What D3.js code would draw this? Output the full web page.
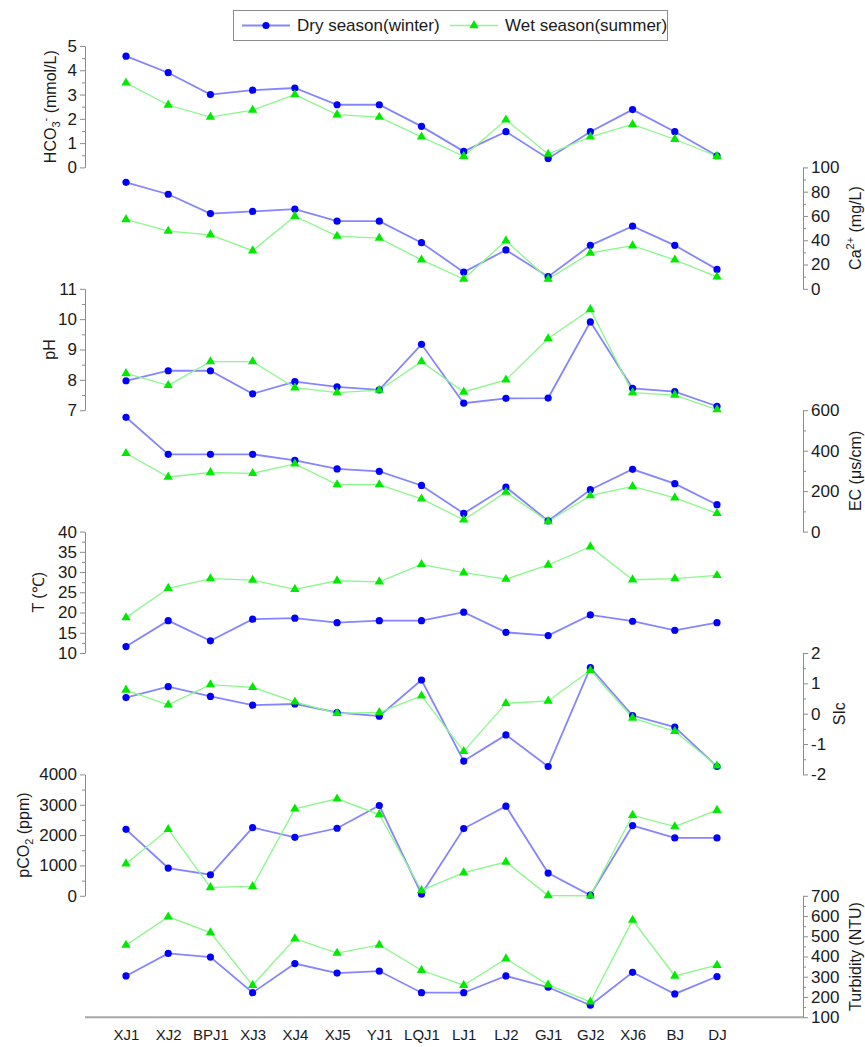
<!DOCTYPE html>
<html>
<head>
<meta charset="utf-8">
<script src="https://cdn.jsdelivr.net/npm/d3@7"></script>
<style>
  html, body { margin: 0; padding: 0; background: #fff; }
  svg { display: block; font-family: "Liberation Sans", Arial, sans-serif; }
</style>
</head>
<body>
<svg id="chart" width="865" height="1047"></svg>
<script>
// Sampling sites along the x axis
const sites = ["XJ1", "XJ2", "BPJ1", "XJ3", "XJ4", "XJ5", "YJ1", "LQJ1", "LJ1", "LJ2", "GJ1", "GJ2", "XJ6", "BJ", "DJ"];

// Series values per parameter: dry season (winter) and wet season (summer)
const hco3Dry = [4.58, 3.9, 3.0, 3.18, 3.27, 2.58, 2.58, 1.69, 0.66, 1.47, 0.37, 1.47, 2.38, 1.47, 0.48];
const hco3Wet = [3.48, 2.57, 2.07, 2.36, 3.0, 2.17, 2.07, 1.26, 0.46, 1.96, 0.55, 1.26, 1.77, 1.16, 0.46];
const caDry = [87.7, 77.9, 62, 63.7, 65.6, 55.7, 55.7, 38, 13.7, 32, 10, 35.8, 51.6, 35.8, 16];
const caWet = [57.1, 47.5, 44.5, 31.4, 59.8, 43.4, 41.8, 23.8, 8, 39.6, 8, 29.5, 35.5, 23.8, 9.8];
const phDry = [7.97, 8.3, 8.3, 7.54, 7.94, 7.77, 7.67, 9.17, 7.23, 7.39, 7.4, 9.91, 7.72, 7.61, 7.13];
const phWet = [8.21, 7.82, 8.6, 8.6, 7.74, 7.58, 7.66, 8.6, 7.6, 8.0, 9.36, 10.32, 7.58, 7.5, 7.02];
const ecDry = [565, 382, 382, 382, 352, 310, 298, 228, 90, 220, 53, 207, 308, 237, 133];
const ecWet = [387, 270, 292, 288, 335, 232, 232, 162, 58, 195, 50, 178, 223, 167, 90];
const tDry = [11.6, 18, 13, 18.35, 18.6, 17.5, 18, 18, 20.1, 15.1, 14.3, 19.4, 17.85, 15.6, 17.5];
const tWet = [18.75, 26, 28.4, 28, 25.75, 27.85, 27.6, 31.9, 29.85, 28.25, 31.75, 36.25, 28.1, 28.4, 29.2];
const sicDry = [0.53, 0.89, 0.57, 0.28, 0.32, 0.04, -0.08, 1.11, -1.56, -0.7, -1.74, 1.52, -0.06, -0.44, -1.74];
const sicWet = [0.78, 0.29, 0.96, 0.87, 0.39, 0.01, 0.04, 0.59, -1.24, 0.34, 0.42, 1.43, -0.14, -0.58, -1.72];
const pco2Dry = [2190, 915, 694, 2248, 1928, 2225, 2975, 56, 2215, 2952, 750, 20, 2314, 1907, 1907];
const pco2Wet = [1058, 2190, 275, 308, 2866, 3196, 2678, 176, 760, 1113, 10, 0, 2655, 2281, 2820];
const turbDry = [304, 415, 397, 221, 365, 318, 328, 221, 221, 304, 248, 159, 322, 215, 301];
const turbWet = [456, 596, 518, 258, 488, 417, 457, 332, 258, 389, 260, 176, 580, 304, 357];

// Axis tick values
const hco3Ticks = [0, 1, 2, 3, 4, 5];
const caTicks = [0, 20, 40, 60, 80, 100];
const phTicks = [7, 8, 9, 10, 11];
const ecTicks = [0, 200, 400, 600];
const tTicks = [10, 15, 20, 25, 30, 35, 40];
const sicTicks = [-2, -1, 0, 1, 2];
const pco2Ticks = [0, 1000, 2000, 3000, 4000];
const turbTicks = [100, 200, 300, 400, 500, 600, 700];

// Legend labels
const seriesNames = ["Dry season(winter)", "Wet season(summer)"];

// Stacked panels, alternating left / right value axes
const panels = [
  { dry: hco3Dry, wet: hco3Wet, ticks: hco3Ticks, side: "left",  title: [["HCO", 0], ["3", 1], ["-", -1], [" (mmol/L)", 0]], titleX: 52 },
  { dry: caDry,   wet: caWet,   ticks: caTicks,   side: "right", title: [["Ca", 0], ["2+", -1], [" (mg/L)", 0]], titleX: 857 },
  { dry: phDry,   wet: phWet,   ticks: phTicks,   side: "left",  title: [["pH", 0]], titleX: 51 },
  { dry: ecDry,   wet: ecWet,   ticks: ecTicks,   side: "right", title: [["EC (\u03bcs/cm)", 0]], titleX: 857 },
  { dry: tDry,    wet: tWet,    ticks: tTicks,    side: "left",  title: [["T (\u2103)", 0]], titleX: 40 },
  { dry: sicDry,  wet: sicWet,  ticks: sicTicks,  side: "right", title: [["SIc", 0]], titleX: 841 },
  { dry: pco2Dry, wet: pco2Wet, ticks: pco2Ticks, side: "left",  title: [["pCO", 0], ["2", 1], [" (ppm)", 0]], titleX: 25 },
  { dry: turbDry, wet: turbWet, ticks: turbTicks, side: "right", title: [["Turbidity (NTU)", 0]], titleX: 857 }
];

const axisLeftX = 85, axisRightX = 803;
const panelTop = 46, panelStep = 121.4;
const axisColor = "#8c8c8c";
const dryLine = "#8585ff", dryMark = "#0000ff";
const wetLine = "#8af88a", wetMark = "#00ea00";

const svg = d3.select("#chart");

const x = d3.scalePoint().domain(sites).range([126, 717]);

const lineGen = (y) => d3.line().x((d, i) => x(sites[i])).y(d => y(d));
const tri = d3.symbol().type(d3.symbolTriangle).size(38);
const tickText = d => String(d);

panels.forEach((p, k) => {
  const top = panelTop + k * panelStep;
  const bottom = top + panelStep;
  const dom = d3.extent(p.ticks);
  const y = d3.scaleLinear().domain(dom).range([bottom, top]);
  const step = p.ticks[1] - p.ticks[0];
  const minor = p.ticks.slice(0, -1).map(t => t + step / 2);

  const ax = p.side === "left" ? axisLeftX : axisRightX;
  const axisFn = p.side === "left" ? d3.axisLeft : d3.axisRight;

  // minor ticks
  svg.append("g")
    .attr("transform", `translate(${ax},0)`)
    .call(axisFn(y).tickValues(minor).tickSize(3).tickFormat(""))
    .call(g => g.select(".domain").remove())
    .call(g => g.selectAll("line").attr("stroke", axisColor));

  // major ticks + labels
  const g = svg.append("g")
    .attr("transform", `translate(${ax},0)`)
    .call(axisFn(y).tickValues(p.ticks).tickSize(5).tickSizeOuter(0).tickPadding(3).tickFormat(tickText));
  g.select(".domain").attr("stroke", axisColor);
  g.selectAll("line").attr("stroke", axisColor);
  g.selectAll("text").attr("fill", "#1a1a1a").style("font-size", "17px")
    .attr("font-family", "Liberation Sans, Arial, sans-serif");

  // axis title, rotated
  const cy = (top + bottom) / 2;
  const t = svg.append("text")
    .attr("transform", `translate(${p.titleX},${cy}) rotate(-90)`)
    .attr("text-anchor", "middle")
    .attr("dominant-baseline", "middle")
    .attr("fill", "#1a1a1a")
    .style("font-size", "16px");
  let acc = 0;
  p.title.forEach(([s, shift]) => {
    const ts = t.append("tspan").text(s);
    const want = shift > 0 ? 5 : shift < 0 ? -6 : 0;
    if (shift !== 0) ts.style("font-size", "11px");
    ts.attr("dy", want - acc);
    acc = want;
  });

  // series lines and markers
  svg.append("path").datum(p.dry)
    .attr("d", lineGen(y)).attr("fill", "none")
    .attr("stroke", dryLine).attr("stroke-width", 1.8);
  svg.append("path").datum(p.wet)
    .attr("d", lineGen(y)).attr("fill", "none")
    .attr("stroke", wetLine).attr("stroke-width", 1.3);

  svg.append("g").selectAll("circle").data(p.dry).join("circle")
    .attr("cx", (d, i) => x(sites[i])).attr("cy", d => y(d))
    .attr("r", 3.6).attr("fill", dryMark);
  svg.append("g").selectAll("path").data(p.wet).join("path")
    .attr("d", tri)
    .attr("transform", (d, i) => `translate(${x(sites[i])},${y(d)})`)
    .attr("fill", wetMark);
});

// bottom category axis
const bottomY = panelTop + panels.length * panelStep;
const xa = svg.append("g")
  .attr("transform", `translate(0,${bottomY})`)
  .call(d3.axisBottom(x).tickSize(0).tickPadding(12));
xa.select(".domain").attr("d", `M${axisLeftX},0H${axisRightX}`).attr("stroke", "#a8a8a8").attr("stroke-width", 2);
xa.selectAll("text").attr("fill", "#1a1a1a").style("font-size", "15px")
  .attr("font-family", "Liberation Sans, Arial, sans-serif");

// legend
const lg = svg.append("g");
lg.append("rect").attr("x", 233.5).attr("y", 10.5).attr("width", 434).attr("height", 30)
  .attr("fill", "#fff").attr("stroke", "#8c8c8c");
const items = [
  { name: seriesNames[0], x0: 242, line: dryLine, w: 1.8, mark: "circle" },
  { name: seriesNames[1], x0: 450, line: wetLine, w: 1.3, mark: "tri" }
];
items.forEach(it => {
  lg.append("line").attr("x1", it.x0).attr("x2", it.x0 + 48).attr("y1", 25.5).attr("y2", 25.5)
    .attr("stroke", it.line).attr("stroke-width", it.w);
  if (it.mark === "circle") {
    lg.append("circle").attr("cx", it.x0 + 24).attr("cy", 25.5).attr("r", 3.6).attr("fill", dryMark);
  } else {
    lg.append("path").attr("d", tri).attr("transform", `translate(${it.x0 + 24},25.5)`).attr("fill", wetMark);
  }
  lg.append("text").attr("x", it.x0 + 55).attr("y", 25.5).attr("dominant-baseline", "central")
    .attr("fill", "#1a1a1a").style("font-size", "17px").text(it.name);
});
</script>
</body>
</html>
